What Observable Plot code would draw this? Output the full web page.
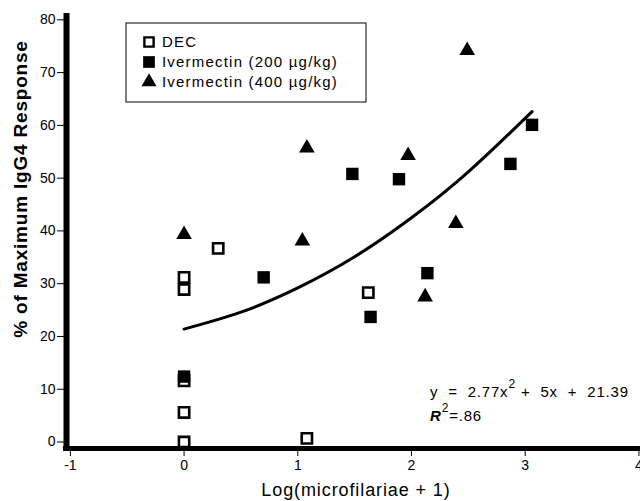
<!DOCTYPE html>
<html><head><meta charset="utf-8">
<script src="https://cdn.jsdelivr.net/npm/d3@7"></script>
<script src="https://cdn.jsdelivr.net/npm/@observablehq/plot@0.6"></script>
<style>body{margin:0;background:#fff;} #chart{position:relative;width:640px;height:501px;}</style>
</head><body><div id="chart"></div>
<script>
const font = "'Liberation Sans', Arial, Helvetica, sans-serif";

// DEC (open squares)
const decX = [0, 0, 0, 0, 0, 0.30, 1.08, 1.62];
const decY = [0, 5.6, 11.6, 28.9, 31.2, 36.7, 0.7, 28.3];
// Ivermectin 200 µg/kg (filled squares)
const iv200X = [0, 0.70, 1.48, 1.64, 1.89, 2.14, 2.87, 3.06];
const iv200Y = [12.4, 31.2, 50.8, 23.7, 49.8, 32.0, 52.7, 60.1];
// Ivermectin 400 µg/kg (triangles)
const iv400X = [0, 1.04, 1.08, 1.97, 2.12, 2.39, 2.49];
const iv400Y = [39.3, 38.1, 55.7, 54.3, 27.5, 41.4, 74.2];
// fitted curve
const fitX = [0, 0.5, 1, 1.5, 2, 2.5, 3.06];
const fitY = [21.4, 24.6, 29.2, 35.1, 42.5, 51.2, 62.6];

const xTicks = [-1, 0, 1, 2, 3, 4];
const yTicks = [0, 10, 20, 30, 40, 50, 60, 70, 80];
const xDomain = [-1.034, 4.014];
const yDomain = [-1.23, 81.2];

const legendLabels = ["DEC", "Ivermectin (200 µg/kg)", "Ivermectin (400 µg/kg)"];
const xTitle = "Log(microfilariae + 1)";
const yTitle = "% of Maximum IgG4 Response";

const rows = (xs, ys) => xs.map((x, i) => ({x, y: ys[i]}));

const plot = Plot.plot({
  width: 640, height: 501,
  marginLeft: 66, marginRight: 0, marginTop: 13, marginBottom: 53,
  style: {fontFamily: font, background: "#fff", color: "#000", overflow: "visible"},
  x: {domain: xDomain},
  y: {domain: yDomain},
  marks: [
    Plot.ruleX([xDomain[0]], {stroke: "#000", strokeWidth: 6, insetBottom: -3}),
    Plot.ruleY([yDomain[0]], {stroke: "#000", strokeWidth: 5, insetLeft: -3}),
    Plot.line(rows(fitX, fitY), {x: "x", y: "y", curve: "natural", stroke: "#000", strokeWidth: 3}),
    Plot.dot(rows(decX, decY), {x: "x", y: "y", symbol: "square", r: 5.8, stroke: "#000", strokeWidth: 2.6, fill: "#fff"}),
    Plot.dot(rows(iv200X, iv200Y), {x: "x", y: "y", symbol: "square", r: 7, fill: "#000", stroke: "none"}),
    Plot.dot(rows(iv400X, iv400Y), {x: "x", y: "y", symbol: "triangle", r: 5.8, fill: "#000", stroke: "none"}),
    Plot.axisX({ticks: xTicks, tickSize: 8, tickPadding: 4, fontSize: 14, tickFormat: d => String(d), label: null}),
    Plot.axisY({ticks: yTicks, tickSize: 9, tickPadding: 2, fontSize: 14, tickFormat: d => String(d), label: null})
  ]
});
document.getElementById("chart").appendChild(plot);

const svg = d3.select(plot);

// axis titles
svg.append("text").attr("x", 356).attr("y", 496).attr("text-anchor", "middle")
  .attr("font-family", font).attr("font-size", 18).attr("letter-spacing", "0.9px").attr("fill", "#000").text(xTitle);
svg.append("text").attr("transform", "translate(27,189) rotate(-90)").attr("text-anchor", "middle")
  .attr("font-family", font).attr("font-size", 19).attr("letter-spacing", "0.8px").attr("font-weight", "bold").attr("fill", "#000").text(yTitle);

// legend
const lg = svg.append("g");
lg.append("rect").attr("x", 126).attr("y", 23).attr("width", 240).attr("height", 79)
  .attr("fill", "#fff").attr("stroke", "#000").attr("stroke-width", 1);
const symSq = d3.symbol(d3.symbolSquare);
const symTri = d3.symbol(d3.symbolTriangle);
const legendSyms = [
  {p: symSq.size(Math.PI * 5.2 * 5.2)(), fill: "#fff", stroke: "#000", sw: 2.4},
  {p: symSq.size(Math.PI * 6.6 * 6.6)(), fill: "#000", stroke: "none", sw: 0},
  {p: symTri.size(Math.PI * 5.6 * 5.6)(), fill: "#000", stroke: "none", sw: 0}
];
legendLabels.forEach((lab, i) => {
  const cy = 42 + i * 20;
  lg.append("path").attr("d", legendSyms[i].p).attr("transform", `translate(149,${cy})`)
    .attr("fill", legendSyms[i].fill).attr("stroke", legendSyms[i].stroke).attr("stroke-width", legendSyms[i].sw);
  lg.append("text").attr("x", 162).attr("y", cy + 5).attr("text-anchor", "start")
    .attr("font-family", font).attr("font-size", 15).attr("letter-spacing", "1.2px")
    .attr("fill", "#000").text(lab);
});

// equation annotation
const eq = svg.append("text").attr("x", 430).attr("y", 397).attr("text-anchor", "start")
  .attr("font-family", font).attr("font-size", 15).attr("letter-spacing", "0.8px")
  .attr("fill", "#000").attr("xml:space", "preserve");
eq.append("tspan").text("y  =  2.77x");
eq.append("tspan").attr("dy", -9).attr("font-size", 12).text("2");
eq.append("tspan").attr("dy", 9).text(" +  5x  +  21.39");
const r2 = svg.append("text").attr("x", 430).attr("y", 421).attr("text-anchor", "start")
  .attr("font-family", font).attr("font-size", 15).attr("letter-spacing", "0.8px").attr("fill", "#000");
r2.append("tspan").attr("font-weight", "bold").attr("font-style", "italic").text("R");
r2.append("tspan").attr("dy", -9).attr("font-size", 12).text("2");
r2.append("tspan").attr("dy", 9).text("=.86");
</script>
</body></html>
